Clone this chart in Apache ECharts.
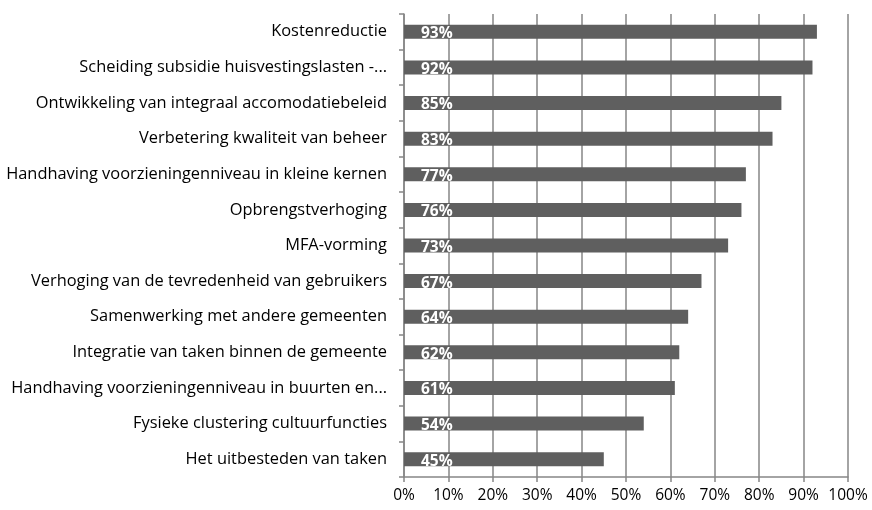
<!DOCTYPE html>
<html><head><meta charset="utf-8">
<script src="https://cdn.jsdelivr.net/npm/echarts@6/dist/echarts.min.js"></script>
<style>html,body{margin:0;padding:0;background:#fff}#c{width:872px;height:510px}</style>
</head><body><div id="c"></div>
<script>
const categories = [
  "Kostenreductie",
  "Scheiding subsidie huisvestingslasten -...",
  "Ontwikkeling van integraal accomodatiebeleid",
  "Verbetering kwaliteit van beheer",
  "Handhaving voorzieningenniveau in kleine kernen",
  "Opbrengstverhoging",
  "MFA-vorming",
  "Verhoging van de tevredenheid van gebruikers",
  "Samenwerking met andere gemeenten",
  "Integratie van taken binnen de gemeente",
  "Handhaving voorzieningenniveau in buurten en...",
  "Fysieke clustering cultuurfuncties",
  "Het uitbesteden van taken"
];
const values = [93, 92, 85, 83, 77, 76, 73, 67, 64, 62, 61, 54, 45];
const xTicks = [0, 10, 20, 30, 40, 50, 60, 70, 80, 90, 100];

const chart = echarts.init(document.getElementById('c'));
const font = '"Open Sans", sans-serif';
chart.setOption({
  animation: false,
  grid: { left: 404, right: 24, top: 14, bottom: 33 },
  xAxis: {
    type: 'value', min: xTicks[0], max: xTicks[xTicks.length - 1], interval: 10,
    axisLine: { show: true, lineStyle: { color: '#868686', width: 1.5 } },
    axisTick: { show: true, length: 5, lineStyle: { color: '#868686', width: 1.5 } },
    splitLine: { show: true, lineStyle: { color: '#868686', width: 1.5 } },
    axisLabel: { formatter: v => v + '%', color: '#000', fontSize: 15.5, fontFamily: font, margin: 11 }
  },
  yAxis: {
    type: 'category', inverse: true, data: categories,
    axisLine: { show: true, lineStyle: { color: '#868686', width: 1.5 } },
    axisTick: { show: true, length: 5, inside: false, lineStyle: { color: '#868686', width: 1.5 } },
    axisLabel: { color: '#000', fontSize: 16.4, fontFamily: font, margin: 17 }
  },
  series: [{
    type: 'bar', data: values, barWidth: 14,
    itemStyle: { color: '#5f5f5f' },
    label: {
      show: true, position: 'insideLeft', offset: [12, 2],
      formatter: p => p.value + '%', color: '#fff', fontWeight: 'bold',
      fontSize: 15.5, fontFamily: font
    }
  }]
});
</script></body></html>
